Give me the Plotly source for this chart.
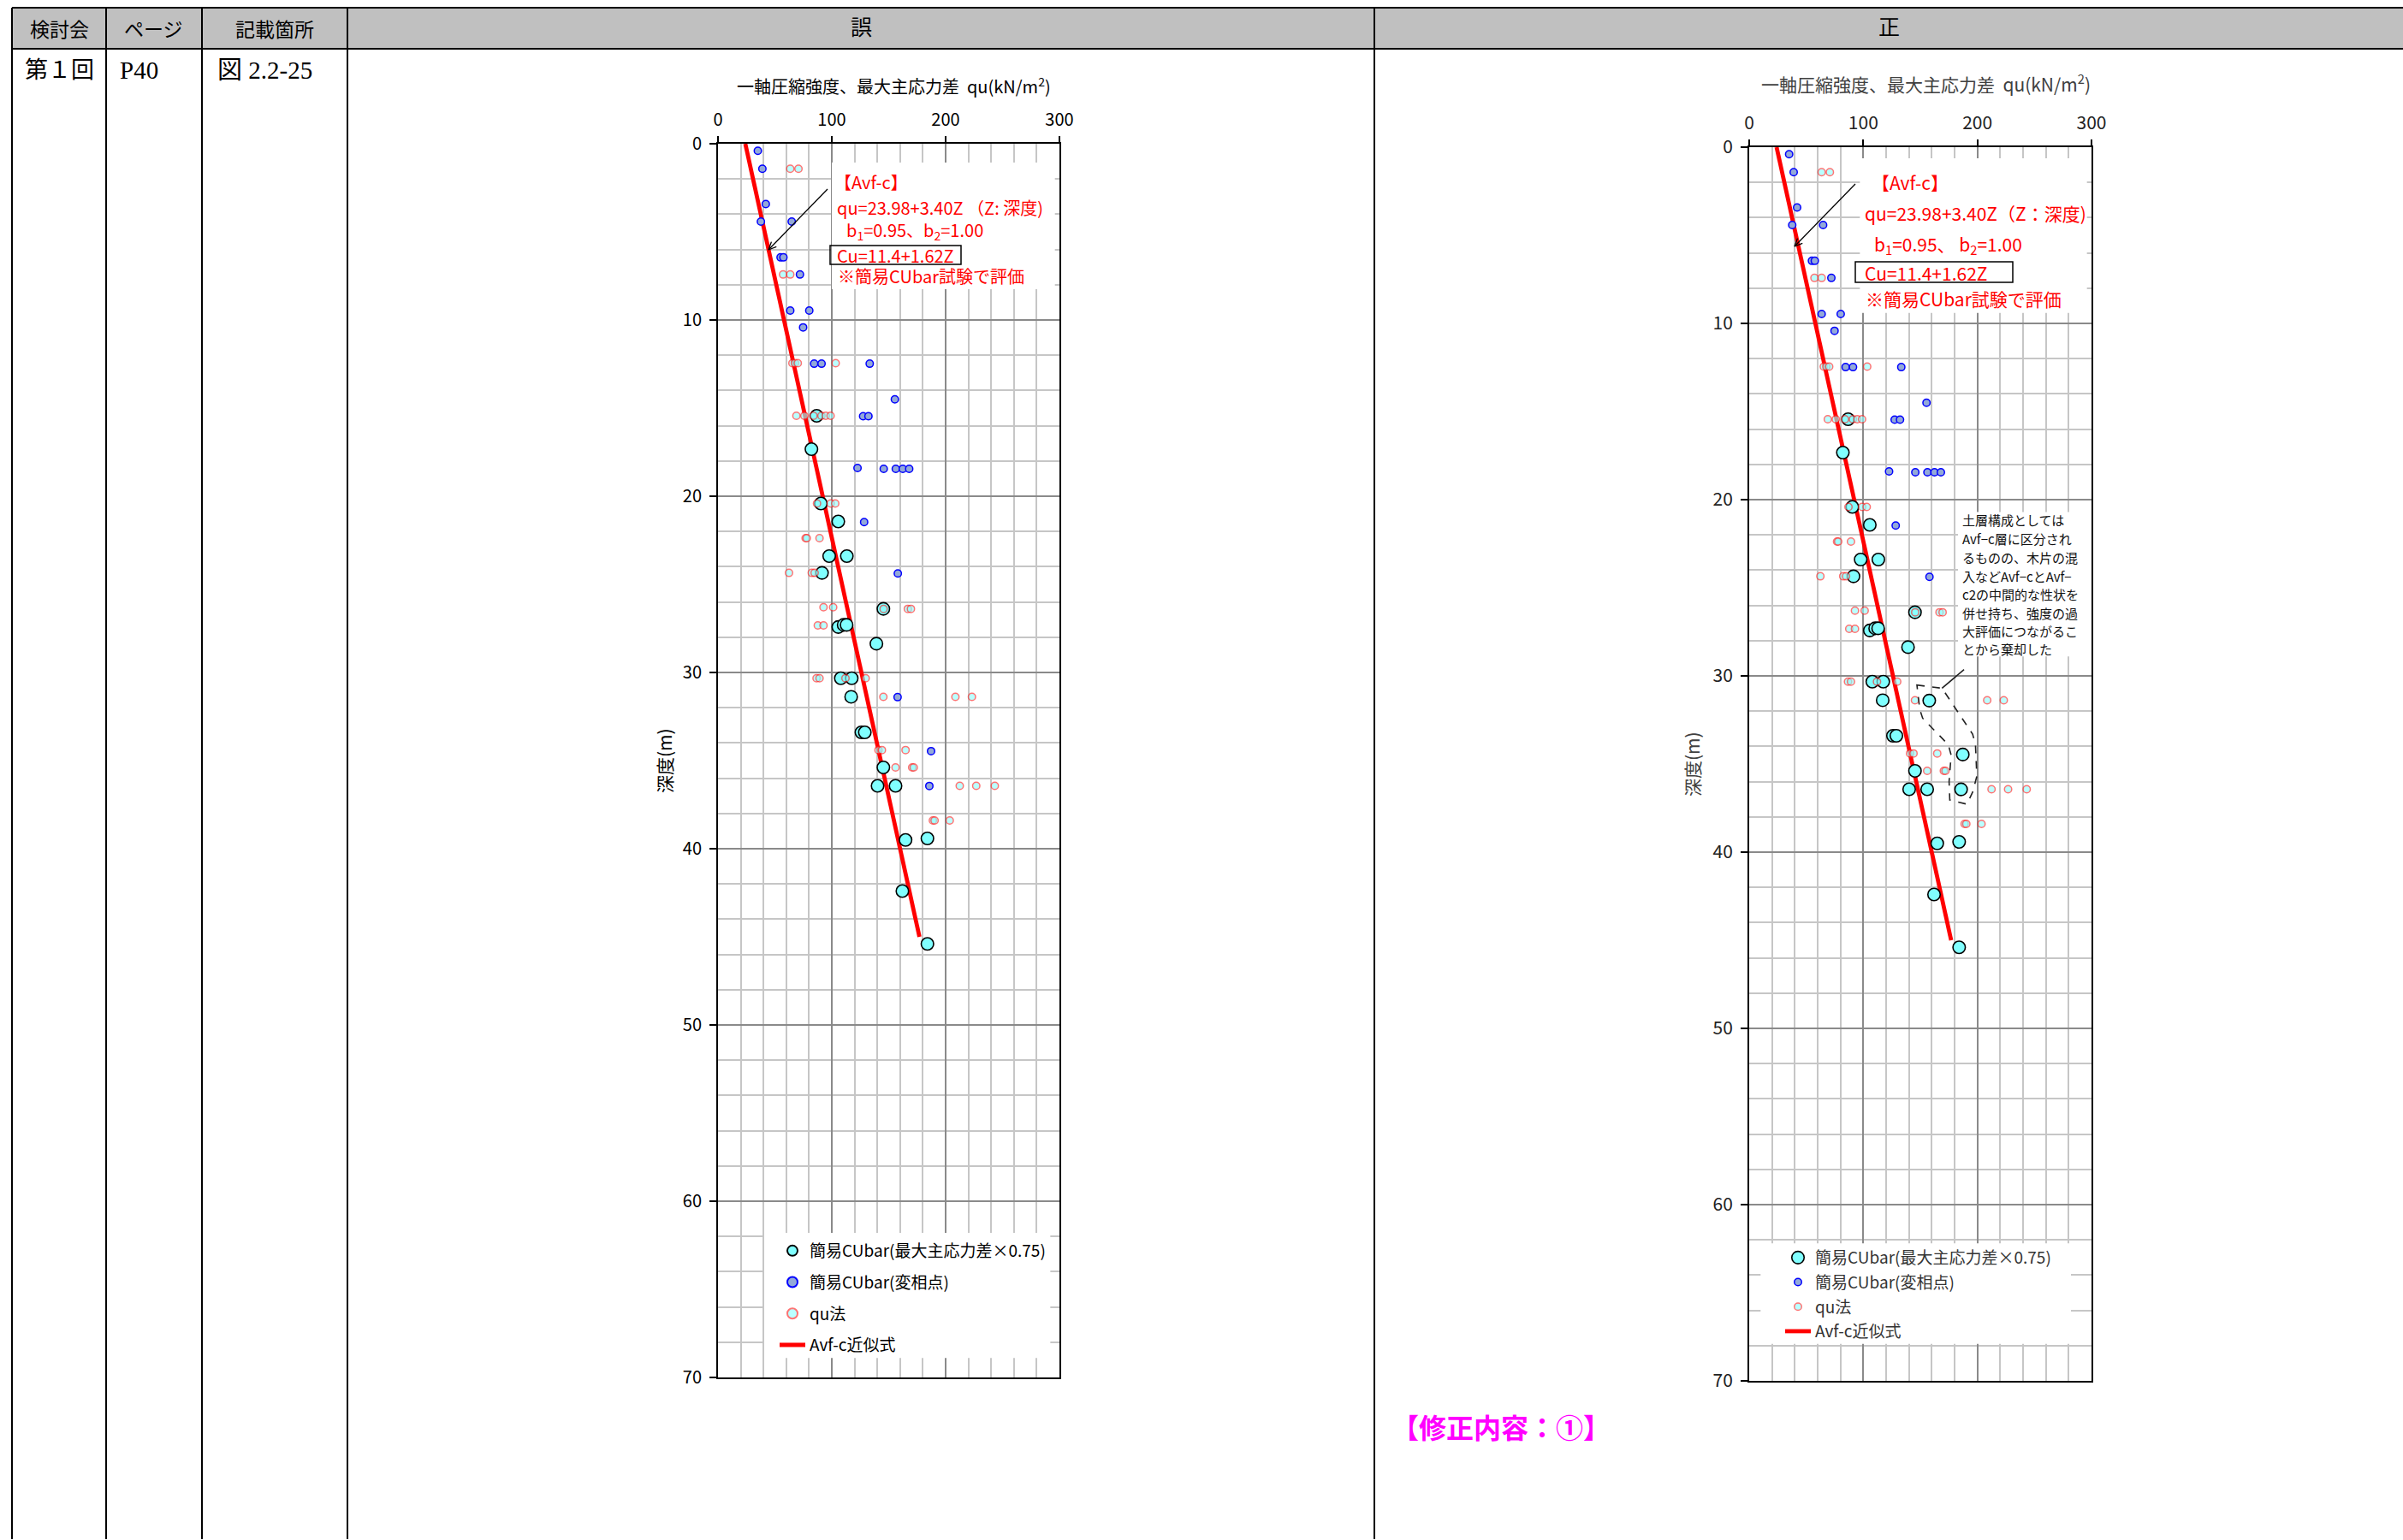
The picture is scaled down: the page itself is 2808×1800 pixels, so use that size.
import math
import plotly.graph_objects as go

W, H = 2808, 1800
JP = "Noto Sans CJK JP"

# ---------------- data ----------------
# 簡易CUbar(最大主応力差×0.75)
cubar_qu = [86.7, 82.1, 90.4, 105.7, 97.7, 113.2, 91.4, 145.3, 105.7, 110.4, 113.0,
            139.2, 107.9, 117.5, 117.0, 126.0, 129.0, 145.3, 140.2, 156.0, 164.8,
            184.0, 162.0, 184.0]
cubar_depth = [15.44, 17.33, 20.41, 21.43, 23.40, 23.40, 24.35, 26.39, 27.42, 27.30, 27.30,
               28.37, 30.33, 30.33, 31.38, 33.40, 33.40, 35.39, 36.43, 36.43, 39.50,
               39.42, 42.40, 45.40]
# points shown as 変相点 in 誤 and as 最大主応力差 (rejected group) in 正
rejected_qu = [157.8, 187.2, 185.7]
rejected_depth = [31.40, 34.46, 36.44]

# 簡易CUbar(変相点)
phase_qu = [35.0, 39.0, 42.0, 37.7, 64.8, 55.0, 57.5, 72.0, 63.5, 80.2, 74.8, 84.5, 91.0,
            133.3, 155.4, 127.5, 132.2, 122.6, 145.6, 156.2, 162.4, 168.0, 128.4, 158.0]
phase_depth = [0.40, 1.42, 3.42, 4.42, 4.42, 6.45, 6.45, 7.42, 9.47, 9.47, 10.42, 12.48, 12.48,
               12.48, 14.50, 15.46, 15.46, 18.40, 18.45, 18.45, 18.45, 18.45, 21.47, 24.38]

# qu法
qu_vals = [63.5, 70.7, 57.2, 63.5, 65.4, 67.6, 70.1, 103.4, 68.9, 75.9, 83.9, 90.9, 94.7, 98.9,
           87.0, 99.0, 103.0, 77.0, 78.0, 89.2, 62.4, 82.4, 84.9, 92.7, 101.2, 145.5, 166.8,
           169.5, 87.7, 92.7, 86.6, 89.2, 112.0, 129.7, 145.3, 208.6, 223.1, 141.0, 144.0,
           164.8, 156.0, 170.6, 172.0, 212.4, 226.9, 243.2, 188.8, 190.3, 203.6]
qu_depth = [1.42, 1.42, 7.42, 7.42, 12.45, 12.45, 12.45, 12.45, 15.44, 15.44, 15.44, 15.44, 15.44,
            15.44, 20.41, 20.41, 20.41, 22.38, 22.38, 22.38, 24.35, 24.35, 24.35, 26.30, 26.30,
            26.39, 26.39, 26.39, 27.33, 27.33, 30.33, 30.33, 30.33, 30.33, 31.38, 31.38, 31.38,
            34.40, 34.40, 34.40, 35.39, 35.39, 35.39, 36.43, 36.43, 36.43, 38.40, 38.40, 38.40]

# Avf-c 近似式 (end points)
fit_depth = [0.0, 45.0]
fit_qu = [24.0, 177.0]

# dashed outline around the rejected points (正)
outline_qu = [147.0, 169.0, 195.8, 198.3, 199.5, 195.8, 190.8, 175.8, 175.2, 177.0, 174.5,
              162.0, 152.0, 149.5]
outline_depth = [30.52, 30.70, 33.30, 33.90, 35.70, 36.60, 37.28, 37.04, 35.98, 34.50, 33.90,
                 33.07, 32.40, 31.90]

x_range = [0, 300]
y_range = [70, 0]

legend_names = ["簡易CUbar(最大主応力差×0.75)", "簡易CUbar(変相点)", "qu法", "Avf-c近似式"]
axis_title_x = "一軸圧縮強度、最大主応力差  qu(kN/m<sup>2</sup>)"
axis_title_y = "深度(m)"


def px(X):
    return X / W


def py(Y):
    return 1 - Y / H


fig = go.Figure()


def add_chart(xa, ya, legend, cyan_x, cyan_y, blue_x, blue_y, tag):
    fig.add_trace(go.Scatter(x=fit_qu, y=fit_depth, mode="lines", name=legend_names[3],
                             line=dict(color="#ff0000", width=4.8), xaxis=xa, yaxis=ya,
                             legend=legend, legendgroup=tag + "4", legendrank=4))
    fig.add_trace(go.Scatter(x=cyan_x, y=cyan_y, mode="markers", name=legend_names[0],
                             marker=dict(size=14.5, color="#80ffff",
                                         line=dict(color="#000000", width=1.6)),
                             xaxis=xa, yaxis=ya, legend=legend, legendgroup=tag + "1",
                             legendrank=1))
    fig.add_trace(go.Scatter(x=blue_x, y=blue_y, mode="markers", name=legend_names[1],
                             marker=dict(size=8.5, color="#93a9d8",
                                         line=dict(color="#0000ff", width=1.5)),
                             xaxis=xa, yaxis=ya, legend=legend, legendgroup=tag + "2",
                             legendrank=2))
    fig.add_trace(go.Scatter(x=qu_vals, y=qu_depth, mode="markers", name=legend_names[2],
                             marker=dict(size=8.5, color="#90ffff", opacity=0.62,
                                         line=dict(color="#ff2020", width=1.5)),
                             xaxis=xa, yaxis=ya, legend=legend, legendgroup=tag + "3",
                             legendrank=3))


# 誤 (left)
add_chart("x", "y", "legend", cubar_qu, cubar_depth,
          phase_qu + rejected_qu, phase_depth + rejected_depth, "L")
# 正 (right)
add_chart("x2", "y2", "legend2", cubar_qu + rejected_qu, cubar_depth + rejected_depth,
          phase_qu, phase_depth, "R")


def xaxis_cfg(x0, x1, anchor, col, fs):
    return dict(domain=[px(x0), px(x1)], range=x_range, side="top", anchor=anchor,
                dtick=100, tick0=0, ticks="outside", ticklen=7, tickwidth=2,
                tickcolor="#000", ticklabelstandoff=4,
                tickfont=dict(family=JP, size=fs, color=col),
                showline=True, linecolor="#000", linewidth=2, mirror=True,
                showgrid=True, gridcolor="#8a8a8a", gridwidth=1.6, zeroline=False,
                minor=dict(dtick=20, tick0=0, showgrid=True, gridcolor="#c6c6c6",
                           gridwidth=1.6, ticks=""),
                fixedrange=True)


def yaxis_cfg(y0, y1, anchor, col, fs):
    return dict(domain=[py(y1), py(y0)], range=y_range, anchor=anchor,
                dtick=10, tick0=0, ticks="outside", ticklen=8, tickwidth=2,
                tickcolor="#000", ticklabelstandoff=5,
                tickfont=dict(family=JP, size=fs, color=col),
                showline=True, linecolor="#000", linewidth=2, mirror=True,
                showgrid=True, gridcolor="#8a8a8a", gridwidth=1.6, zeroline=False,
                minor=dict(dtick=2, tick0=0, showgrid=True, gridcolor="#c6c6c6",
                           gridwidth=1.6, ticks=""),
                fixedrange=True)


shapes = []
ann = []

# ---------------- table frame ----------------
shapes.append(dict(type="rect", xref="paper", yref="paper", x0=px(14), x1=px(2808),
                   y0=py(57), y1=py(9), fillcolor="#c0c0c0", line=dict(width=0),
                   layer="below"))
for yy in (9, 57):
    shapes.append(dict(type="line", xref="paper", yref="paper", x0=px(14), x1=px(2808),
                       y0=py(yy), y1=py(yy), line=dict(color="#000", width=2)))
for xx in (14, 124, 236, 406, 1606):
    shapes.append(dict(type="line", xref="paper", yref="paper", x0=px(xx), x1=px(xx),
                       y0=py(9), y1=py(1799), line=dict(color="#000", width=2)))

for txt, X in (("検討会", 69), ("ページ", 180), ("記載箇所", 321)):
    ann.append(dict(text=txt, x=px(X), y=py(33), xref="paper", yref="paper",
                    showarrow=False, xanchor="center", yanchor="middle",
                    font=dict(family=JP, size=23, color="#000")))
for txt, X in (("誤", 1006), ("正", 2207)):
    ann.append(dict(text=txt, x=px(X), y=py(33), xref="paper", yref="paper",
                    showarrow=False, xanchor="center", yanchor="middle",
                    font=dict(family="Liberation Serif, " + JP, size=25, color="#000")))
for txt, X, fs in (("第１回", 27, 27), ("P40", 138, 29), ("図 2.2-25", 252, 29)):
    ann.append(dict(text=txt, x=px(X), y=py(82), xref="paper", yref="paper",
                    showarrow=False, xanchor="left", yanchor="middle",
                    font=dict(family="Liberation Serif, " + JP, size=fs, color="#000")))

ann.append(dict(text="【修正内容：①】", x=px(1624), y=py(1667), xref="paper", yref="paper",
                showarrow=False, xanchor="left", yanchor="middle",
                font=dict(family=JP, size=32, color="#ff00ff", weight="bold")))

# ---------------- white masks over the grid ----------------
masks = [("x", "y", 100, 296, 1.07, 8.25), ("x", "y", 40.6, 292, 61.8, 68.9),
         ("x2", "y2", 97, 296, 0.63, 9.4), ("x2", "y2", 10, 282, 62.2, 67.9),
         ("x2", "y2", 183, 300, 20.7, 28.9)]
for xr, yr, a, b, c, d in masks:
    shapes.append(dict(type="rect", xref=xr, yref=yr, x0=a, x1=b, y0=c, y1=d,
                       fillcolor="#ffffff", line=dict(width=0), layer="between"))


# ---------------- axis titles ----------------
def titles(cx, cy, yx, yy, col, tsize, ysize):
    ann.append(dict(text=axis_title_x, x=px(cx), y=py(cy), xref="paper", yref="paper",
                    showarrow=False, xanchor="center", yanchor="middle",
                    font=dict(family=JP, size=tsize, color=col)))
    ann.append(dict(text=axis_title_y, x=px(yx), y=py(yy), xref="paper", yref="paper",
                    showarrow=False, xanchor="center", yanchor="middle", textangle=-90,
                    font=dict(family=JP, size=ysize, color=col)))


titles(1044, 100, 776, 889, "#000", 20, 21)
titles(2250, 97, 1977, 893, "#404040", 21, 21)


# ---------------- notes ----------------
def note(lines, col="#ff0000", size=18):
    for txt, X, Y in lines:
        ann.append(dict(text=txt, x=px(X), y=py(Y), xref="paper", yref="paper",
                        showarrow=False, xanchor="left", yanchor="middle",
                        font=dict(family=JP, size=size, color=col)))


note([("【Avf-c】", 973, 213),
      ("qu=23.98+3.40Z （Z: 深度)", 976, 242),
      ("b<sub>1</sub>=0.95、b<sub>2</sub>=1.00", 987, 269),
      ("Cu=11.4+1.62Z", 976, 298),
      ("※簡易CUbar試験で評価", 977, 323)], size=20)
note([("【Avf-c】", 2185, 213),
      ("qu=23.98+3.40Z（Z：深度)", 2177, 249),
      ("b<sub>1</sub>=0.95、 b<sub>2</sub>=1.00", 2188, 286),
      ("Cu=11.4+1.62Z", 2177, 319),
      ("※簡易CUbar試験で評価", 2178, 349)], size=21)

shapes.append(dict(type="rect", xref="paper", yref="paper", x0=px(970), x1=px(1123),
                   y0=py(309), y1=py(287), line=dict(color="#000", width=1.5)))
shapes.append(dict(type="rect", xref="paper", yref="paper", x0=px(2168), x1=px(2352),
                   y0=py(330), y1=py(306), line=dict(color="#000", width=1.5)))


# arrows drawn as line shapes (pixel geometry)
def arrow(tail, head, length=10, spread=0.42):
    tx, ty = tail
    hx, hy = head
    shapes.append(dict(type="line", xref="paper", yref="paper", x0=px(tx), y0=py(ty),
                       x1=px(hx), y1=py(hy), line=dict(color="#000", width=1.3)))
    ang = math.atan2(ty - hy, tx - hx)
    for s in (-spread, spread):
        ex = hx + length * math.cos(ang + s)
        ey = hy + length * math.sin(ang + s)
        shapes.append(dict(type="line", xref="paper", yref="paper", x0=px(hx), y0=py(hy),
                           x1=px(ex), y1=py(ey), line=dict(color="#000", width=1.3)))


arrow((967, 221), (898, 292))
arrow((2168, 215), (2097, 288))

# black note (正)
note([("土層構成としては", 2291, 608),
      ("Avf−c層に区分され", 2291, 629),
      ("るものの、木片の混", 2291, 651),
      ("入などAvf−cとAvf−", 2291, 673),
      ("c2の中間的な性状を", 2291, 695),
      ("併せ持ち、強度の過", 2291, 716),
      ("大評価につながるこ", 2291, 738),
      ("とから棄却した", 2291, 759)], col="#111", size=15)

path = "M " + " L ".join(f"{a},{b}" for a, b in zip(outline_qu, outline_depth)) + " Z"
shapes.append(dict(type="path", xref="x2", yref="y2", path=path,
                   line=dict(color="#222", width=1.6, dash="dash")))
shapes.append(dict(type="line", xref="x2", yref="y2", x0=188.3, y0=29.64, x1=169.0,
                   y1=30.7, line=dict(color="#222", width=1.6)))

fig.update_layout(
    width=W, height=H, autosize=False,
    margin=dict(l=0, r=0, t=0, b=0, pad=0, autoexpand=False),
    paper_bgcolor="#ffffff", plot_bgcolor="#ffffff",
    hovermode=False,
    xaxis=xaxis_cfg(839, 1238, "y", "#000", 20),
    yaxis=yaxis_cfg(168, 1610, "x", "#000", 20),
    xaxis2=xaxis_cfg(2044, 2444, "y2", "#222", 21),
    yaxis2=yaxis_cfg(172, 1614, "x2", "#222", 21),
    legend=dict(x=px(906), y=py(1443), xanchor="left", yanchor="top",
                bgcolor="rgba(0,0,0,0)", borderwidth=0, traceorder="grouped",
                tracegroupgap=9, itemsizing="constant",
                font=dict(family=JP, size=19, color="#000")),
    legend2=dict(x=px(2081), y=py(1451), xanchor="left", yanchor="top",
                 bgcolor="rgba(0,0,0,0)", borderwidth=0, traceorder="grouped",
                 tracegroupgap=1, itemsizing="trace",
                 font=dict(family=JP, size=19, color="#333")),
    shapes=shapes,
    annotations=ann,
    showlegend=True,
)

post = (
    "var gd=document.getElementById('{plot_id}');"
    "gd.style.position='fixed';gd.style.left='0px';gd.style.top='0px';"
    "document.documentElement.style.margin='0';document.body.style.margin='0';"
    "document.documentElement.style.overflow='hidden';document.body.style.overflow='hidden';"
)
fig.write_html("out.html", config={"displayModeBar": False, "responsive": False},
               post_script=post)
